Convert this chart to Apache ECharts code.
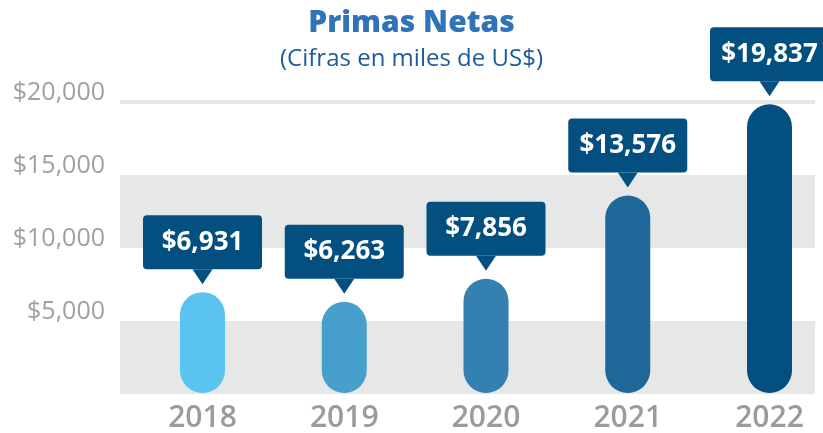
<!DOCTYPE html>
<html>
<head>
<meta charset="utf-8">
<script src="https://cdn.jsdelivr.net/npm/echarts@6/dist/echarts.min.js"></script>
<style>
  html, body { margin: 0; padding: 0; background: #fff; }
  #chart { width: 823px; height: 433px; }
</style>
</head>
<body>
<div id="chart"></div>
<script>
// datos
const years = ['2018', '2019', '2020', '2021', '2022'];
const primas = [6931, 6263, 7856, 13576, 19837];
const barColors = ['#5bc3ef', '#47a0cb', '#3480b1', '#1f6798', '#034f80'];
const yTicks = [0, 5000, 10000, 15000, 20000];

const navy = '#034f80';
const fontFamily = '"Open Sans", "Noto Sans", sans-serif';

const fmtMoney = v => '$' + v.toLocaleString('en-US');

const chart = echarts.init(document.getElementById('chart'));

const option = {
  animation: false,
  title: {
    text: 'Primas Netas',
    subtext: '(Cifras en miles de US$)',
    left: 'center',
    top: 3,
    itemGap: 9,
    textStyle: { fontFamily, fontSize: 30, fontWeight: 800, color: '#2f73b9' },
    subtextStyle: { fontFamily, fontSize: 24, color: '#1f5b98' }
  },
  grid: [
    // fondo con bandas
    { left: 120, right: 8, top: 102, bottom: 39 },
    // barras
    { left: 202.5, right: 53.5, top: 102, bottom: 39 }
  ],
  xAxis: [
    { gridIndex: 0, type: 'value', show: false },
    {
      gridIndex: 1,
      type: 'category',
      data: years,
      boundaryGap: false,
      axisLine: { show: false },
      axisTick: { show: false },
      axisLabel: { margin: 10, fontFamily, fontSize: 30, fontWeight: 600, color: '#9b9b9b' }
    }
  ],
  yAxis: [
    {
      gridIndex: 0,
      type: 'value',
      min: yTicks[0],
      max: yTicks[yTicks.length - 1],
      interval: yTicks[1] - yTicks[0],
      axisLine: { show: false },
      axisTick: { show: false },
      axisLabel: {
        margin: 15,
        fontFamily,
        fontSize: 25,
        color: '#a0a0a0',
        verticalAlign: 'bottom',
        lineHeight: 18,
        formatter: v => (v === 0 ? '' : fmtMoney(v))
      },
      splitLine: {
        show: true,
        lineStyle: {
          width: 4,
          color: ['rgba(0,0,0,0)', 'rgba(0,0,0,0)', 'rgba(0,0,0,0)', 'rgba(0,0,0,0)', '#e5e6e6']
        }
      },
      splitArea: {
        show: true,
        areaStyle: { color: ['#e6e7e7', 'rgba(255,255,255,0)'] }
      }
    },
    {
      gridIndex: 1,
      type: 'value',
      min: yTicks[0],
      max: yTicks[yTicks.length - 1],
      show: false,
      splitLine: { show: false }
    }
  ],
  series: [
    {
      type: 'bar',
      xAxisIndex: 1,
      yAxisIndex: 1,
      barWidth: 45,
      clip: false,
      data: primas.map((v, i) => ({
        value: v,
        itemStyle: { color: barColors[i], borderRadius: 22.5 }
      })),
      label: {
        show: true,
        position: 'top',
        distance: 23,
        formatter: p => fmtMoney(p.value),
        fontFamily,
        fontSize: 26,
        fontWeight: 'bold',
        color: '#fff',
        backgroundColor: navy,
        borderRadius: 4,
        width: 119,
        align: 'center',
        lineHeight: 26,
        padding: [14, 0, 14, 0]
      }
    },
    {
      // pico del globo
      type: 'scatter',
      xAxisIndex: 1,
      yAxisIndex: 1,
      silent: true,
      symbol: 'triangle',
      symbolRotate: 180,
      symbolSize: [20, 15],
      symbolOffset: [0, -15.5],
      itemStyle: { color: navy, opacity: 1 },
      data: primas,
      z: 3
    }
  ]
};

chart.setOption(option);
window.addEventListener('resize', () => chart.resize());
</script>
</body>
</html>
